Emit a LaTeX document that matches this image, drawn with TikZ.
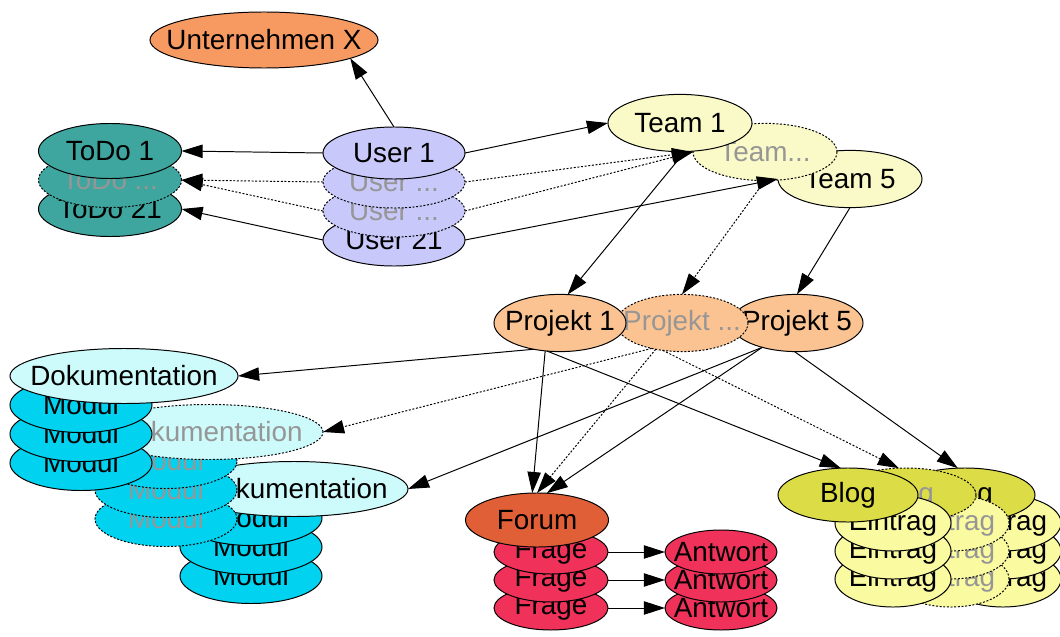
\documentclass[tikz,border=0pt]{standalone}
\usepackage{fontspec}
\setmainfont{Liberation Sans}
\usetikzlibrary{shapes.geometric,arrows.meta}
\definecolor{firmacol}{HTML}{F79A62}
\definecolor{todocol}{HTML}{3EA69E}
\definecolor{usercol}{HTML}{C8C8FA}
\definecolor{teamcol}{HTML}{FAFAC8}
\definecolor{projcol}{HTML}{FAC391}
\definecolor{dokucol}{HTML}{CDFAFA}
\definecolor{modulcol}{HTML}{00D2F0}
\definecolor{forumcol}{HTML}{E15F37}
\definecolor{fragecol}{HTML}{F0325A}
\definecolor{blogcol}{HTML}{DCDC46}
\definecolor{eintragcol}{HTML}{FAFAA0}
\definecolor{fainttext}{HTML}{969696}
\begin{document}
\begin{tikzpicture}
	[x=0.025cm, y=-0.025cm,
	every node/.style={ellipse, draw, line width=0.7pt, inner sep=0pt, outer sep=0pt,
		font=\fontsize{19.8}{22}\selectfont,
		execute at begin node={\hbox to 0pt\bgroup\hss}, execute at end node={\hss\egroup}},
	faint/.style={dash pattern=on 1.4pt off 1.2pt, text=fainttext},
	firma/.style={fill=firmacol, minimum width=5.7cm, minimum height=1.4cm},
	todo/.style={fill=todocol, minimum width=3.575cm, minimum height=1.375cm},
	user/.style={fill=usercol, minimum width=3.55cm, minimum height=1.3cm},
	team/.style={fill=teamcol, minimum width=3.6cm, minimum height=1.43cm},
	projekt/.style={fill=projcol, minimum width=3.3cm, minimum height=1.43cm},
	doku/.style={fill=dokucol, minimum width=5.7cm, minimum height=1.375cm},
	modul/.style={fill=modulcol, minimum width=3.55cm, minimum height=1.375cm},
	forum/.style={fill=forumcol, minimum width=3.575cm, minimum height=1.35cm},
	frage/.style={fill=fragecol, minimum width=2.85cm, minimum height=1.1cm},
	antwort/.style={fill=fragecol, minimum width=2.8cm, minimum height=1.1cm},
	blog/.style={fill=blogcol, minimum width=3.5cm, minimum height=1.35cm},
	eintrag/.style={fill=eintragcol, minimum width=2.9cm, minimum height=1.4cm},
	link/.style={line width=0.7pt, -{Triangle[length=15pt,width=9.5pt]}},
	flink/.style={link, dash pattern=on 1.4pt off 1.2pt}]
	\useasboundingbox (0,0) rectangle (1060,637);
	\node[firma] (ux) at (264,40) {Unternehmen X};
	\node[todo] (t21) at (110,209) {ToDo 21};
	\node[todo, faint] (tm) at (110,180) {ToDo ...};
	\node[todo] (t1) at (110,151) {ToDo 1};
	\node[user] (u21) at (394,240) {User 21};
	\node[user, faint] (um2) at (394,211) {User ...};
	\node[user, faint] (um1) at (394,182) {User ...};
	\node[user] (u1) at (394,153) {User 1};
	\node[team] (tm5) at (850,179) {Team 5};
	\node[team, faint] (tmm) at (765,152) {Team...};
	\node[team] (tm1) at (680,123) {Team 1};
	\node[projekt] (p5) at (797,323) {Projekt 5};
	\node[projekt, faint] (pm) at (682,323) {Projekt ...};
	\node[projekt] (p1) at (560,323) {Projekt 1};
	\foreach \i/\y in {c/576,b/547,a/518}
		\node[modul] (m3\i) at (251,\y) {Modul};
	\node[doku] (d3) at (294,489) {Dokumentation};
	\foreach \i/\y in {c/519,b/490,a/461}
		\node[modul, faint] (m2\i) at (166,\y) {Modul};
	\node[doku, faint] (d2) at (209,432) {Dokumentation};
	\foreach \i/\y in {c/463,b/434,a/405}
		\node[modul] (m1\i) at (81,\y) {Modul};
	\node[doku] (d1) at (124,376) {Dokumentation};
	\foreach \i/\y in {3/608,2/580,1/552}
		\node[frage] (fr\i) at (551,\y) {Frage};
	\node[forum] (fo) at (537,520) {Forum};
	\foreach \i/\y in {3/608,2/580,1/552}
		\node[antwort] (an\i) at (721,\y) {Antwort};
	\foreach \i/\y in {c/579,b/551,a/523}
		\node[eintrag] (e3\i) at (1003,\y) {Eintrag};
	\node[blog] (b3) at (965,495) {Blog};
	\foreach \i/\y in {c/579,b/551,a/523}
		\node[eintrag, faint] (e2\i) at (951,\y) {Eintrag};
	\node[blog, faint] (b2) at (906,495) {Blog};
	\foreach \i/\y in {c/579,b/551,a/523}
		\node[eintrag] (e1\i) at (893,\y) {Eintrag};
	\node[blog] (b1) at (848,495) {Blog};
	\draw[link] (u1.north) -- (ux.-12);
	\draw[link] (u1.west) -- (t1.east);
	\draw[flink] (um1.west) -- (tm.east);
	\draw[flink] (um2.west) -- (tm.east);
	\draw[link] (u21.west) -- (t21.east);
	\draw[link] (u1.east) -- (tm1.west);
	\draw[flink] (um1.east) -- (tmm.west);
	\draw[flink] (um2.east) -- (tmm.west);
	\draw[link] (u21.east) -- (tm5.west);
	\draw[link] (tm1.-80) -- (p1.75);
	\draw[flink] (tmm.south) -- (pm.north);
	\draw[link] (tm5.south) -- (p5.north);
	\draw[link] (p1.-135) -- (d1.east);
	\draw[link] (p1.-118) -- (fo.100);
	\draw[link] (p1.-115) -- (b1.105);
	\draw[flink] (pm.-140) -- (d2.east);
	\draw[flink] (pm.-135) -- (fo.north);
	\draw[flink] (pm.-125) -- (b2.105);
	\draw[link] (p5.-145) -- (d3.east);
	\draw[link] (p5.-145) -- (fo.70);
	\draw[link] (p5.-95) -- (b3.105);
	\foreach \i in {1,2,3}
		\draw[link] (fr\i.east) -- (an\i.west);
\end{tikzpicture}
\end{document}
